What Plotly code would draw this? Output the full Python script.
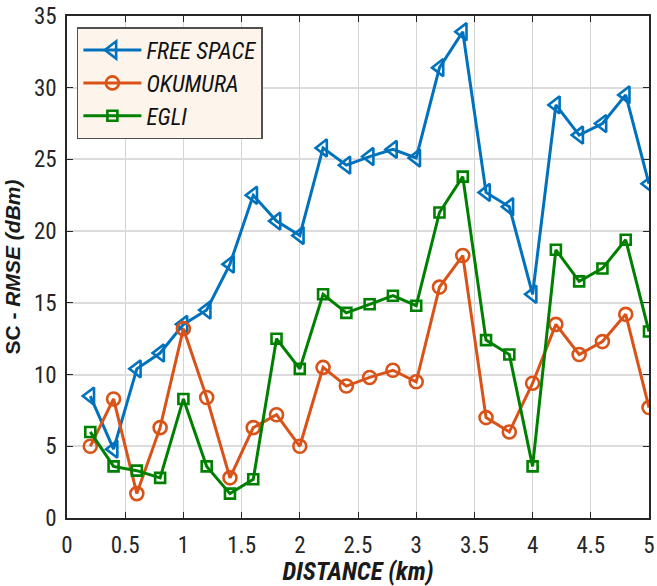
import plotly.graph_objects as go

distance_km = [0.2, 0.4, 0.6, 0.8, 1.0, 1.2, 1.4, 1.6, 1.8, 2.0, 2.2, 2.4, 2.6,
               2.8, 3.0, 3.2, 3.4, 3.6, 3.8, 4.0, 4.2, 4.4, 4.6, 4.8, 5.0]

free_space = [8.5, 4.8, 10.4, 11.5, 13.5, 14.5, 17.7, 22.5, 20.7, 19.7, 25.8, 24.6, 25.2,
              25.7, 25.1, 31.4, 33.9, 22.7, 21.7, 15.6, 28.8, 26.7, 27.5, 29.5, 23.3]

okumura = [5.0, 8.3, 1.7, 6.3, 13.2, 8.4, 2.8, 6.3, 7.2, 5.0, 10.5, 9.2, 9.8,
           10.3, 9.5, 16.1, 18.3, 7.0, 6.0, 9.4, 13.5, 11.4, 12.3, 14.2, 7.7]

egli = [6.0, 3.6, 3.3, 2.8, 8.3, 3.6, 1.7, 2.7, 12.5, 10.4, 15.6, 14.3, 14.9,
        15.5, 14.8, 21.3, 23.8, 12.4, 11.4, 3.6, 18.7, 16.5, 17.4, 19.4, 13.0]

series = [
    ("FREE SPACE", free_space, "#0072BD", "triangle-left-open", 15),
    ("OKUMURA", okumura, "#D95319", "circle-open", 13),
    ("EGLI", egli, "#008000", "square-open", 10),
]

narrow = "Liberation Sans Narrow, Roboto Condensed, Arial Narrow, Roboto, sans-serif"
bold_font = "Liberation Sans, Arial, sans-serif"

fig = go.Figure()
for name, vals, color, symbol, size in series:
    fig.add_trace(go.Scatter(
        x=distance_km, y=vals, name=name, mode="lines+markers",
        line=dict(color=color, width=3),
        marker=dict(symbol=symbol, size=size, color=color,
                    line=dict(color=color, width=2.6)),
    ))

axis_common = dict(
    showline=True, linecolor="#262626", linewidth=1.5, mirror="ticks",
    ticks="inside", ticklen=6, tickwidth=1.2, tickcolor="#262626",
    showgrid=True, zeroline=False,
    tickfont=dict(family=narrow, size=23, color="#262626"),
)

fig.update_xaxes(
    range=[0, 5], dtick=0.5, tick0=0,
    gridcolor="#d4d4d4", gridwidth=1,
    ticklabelstandoff=6, ticklabeloverflow="allow",
    title=dict(text="<b><i>DISTANCE (km)</i></b>",
               font=dict(family=narrow, size=25, color="#1a1a1a"), standoff=4),
    **axis_common,
)
fig.update_yaxes(
    range=[0, 35], dtick=5, tick0=0,
    gridcolor="#dcdcdc", gridwidth=1.6,
    ticklabelstandoff=4,
    title=dict(text="<b>SC - <i>RMSE (dBm)</i></b>",
               font=dict(family=bold_font, size=21, color="#1a1a1a"), standoff=8),
    **axis_common,
)

fig.update_layout(
    width=657, height=586,
    margin=dict(l=67, r=8, t=16, b=68, autoexpand=False),
    paper_bgcolor="white", plot_bgcolor="white",
    showlegend=True,
    legend=dict(
        x=0.017, y=0.978, xanchor="left", yanchor="top",
        bgcolor="#FDF5EC", bordercolor="#505050", borderwidth=1.5,
        font=dict(family=narrow, size=23, color="#111111", style="italic"),
        itemwidth=58, tracegroupgap=0,
    ),
)

fig.write_html("out.html")
